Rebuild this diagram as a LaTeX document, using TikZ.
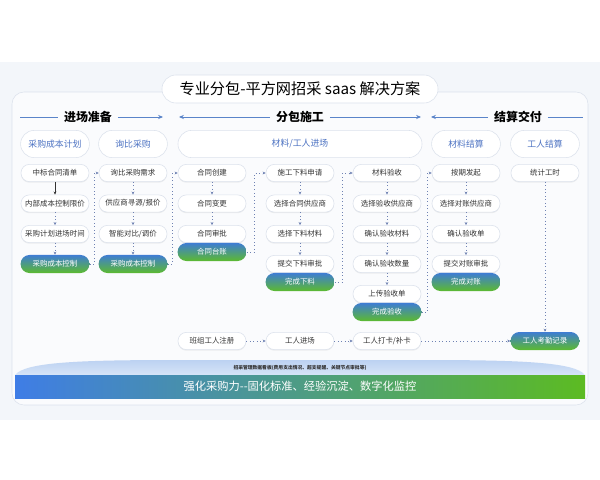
\documentclass[tikz,border=0pt]{standalone}
\usepackage{fontspec}
\setmainfont{Noto Sans CJK SC}
\usepackage{xcolor}
\usetikzlibrary{arrows.meta,shadows}

\definecolor{panelbg}{HTML}{F3F6FA}
\definecolor{boxline}{HTML}{DCE2EC}
\definecolor{darktext}{HTML}{333333}
\definecolor{catblue}{HTML}{4C72C2}
\definecolor{phaseblue}{HTML}{5A84C9}
\definecolor{dotline}{HTML}{6F82B3}
\definecolor{donegreen}{HTML}{5CBA2F}
\definecolor{doneblue}{HTML}{3F7DD3}
\definecolor{barblue}{HTML}{3F7DE6}
\definecolor{bargreen}{HTML}{5CBB22}
\definecolor{domeblue}{HTML}{BCD2F2}

\tikzset{
  stepbox/.style={draw=boxline, fill=white, rounded corners=2.1mm,
    minimum width=1.7cm, minimum height=0.43cm, inner sep=1pt,
    text=darktext, font=\fontsize{5.3}{6}\selectfont,
    drop shadow={opacity=0.12, shadow xshift=0pt, shadow yshift=-0.8pt}},
  % y axis points down, so the shading colours are given the other way round
  donebox/.style={rounded corners=2.2mm, minimum width=1.72cm,
    minimum height=0.45cm, inner sep=1pt, top color=doneblue,
    bottom color=donegreen, text=white, font=\fontsize{5.3}{6}\selectfont},
  catbox/.style={draw=boxline, fill=white, rounded corners=3.4mm,
    minimum width=1.72cm, minimum height=0.68cm, text=catblue,
    font=\fontsize{6.3}{7}\selectfont},
  phase/.style={font=\fontsize{8.5}{9}\selectfont\bfseries, inner sep=4pt},
  phaseline/.style={draw=phaseblue, line width=0.6pt},
  phasearrow/.style={phaseline, -{Stealth[length=3.5pt,width=3pt]}},
  flow/.style={dotted, draw=dotline, line width=0.5pt,
    -{Stealth[length=2.2pt,width=2pt]}},
}

\begin{document}
\begin{tikzpicture}[x=0.025cm,y=-0.025cm]
\useasboundingbox (0,0) rectangle (600,480);

% background panel and frame
\fill[panelbg] (0,62) rectangle (600,420);
\draw[boxline, fill=white!60!panelbg, rounded corners=3mm] (12,92) rectangle (588,405);

% title
\node[draw=boxline, fill=white, rounded corners=3.5mm, minimum width=6.9cm,
  minimum height=0.7cm, font=\fontsize{10.8}{12}\selectfont] (title) at (300,89)
  {专业分包{-}平方网招采 saas 解决方案};

% phase headers
\node[phase] (prep) at (88,117) {进场准备};
\node[phase] (build) at (300,117) {分包施工};
\node[phase] (settle) at (518,117) {结算交付};
\coordinate (prepL) at (20,117);
\coordinate (prepR) at (163,117);
\coordinate (buildL) at (179,117);
\coordinate (buildR) at (421,117);
\coordinate (settleL) at (431,117);
\coordinate (settleR) at (583,117);
\draw[phaseline] (prepL) -- (prep);
\draw[phasearrow] (prep) -- (prepR);
\draw[phasearrow] (build) -- (buildL);
\draw[phasearrow] (build) -- (buildR);
\draw[phasearrow] (settle) -- (settleL);
\draw[phaseline] (settle) -- (settleR);

% category pills
\node[catbox] (catplan) at (55,144) {采购成本计划};
\node[catbox] (catinq) at (133,144) {询比采购};
\node[catbox, minimum width=6.1cm] (catsite) at (300,144) {材料/工人进场};
\node[catbox] (catbill) at (466,144) {材料结算};
\node[catbox] (catwork) at (545,144) {工人结算};

% column 1
\node[stepbox] (plan1) at (55,173) {中标合同清单};
\node[stepbox] (plan2) at (55,203.5) {内部成本控制限价};
\node[stepbox] (plan3) at (55,234) {采购计划进场时间};
\node[donebox] (planok) at (55,264) {采购成本控制};
\draw[-{Stealth[length=2.2pt,width=2pt]}, draw=darktext, line width=0.5pt] (plan1) -- (plan2);
\draw[flow] (plan2) -- (plan3);
\draw[flow] (plan3) -- (planok);

% column 2
\node[stepbox] (inq1) at (133,173) {询比采购需求};
\node[stepbox] (inq2) at (133,203.5) {供应商寻源/报价};
\node[stepbox] (inq3) at (133,234) {智能对比/调价};
\node[donebox] (inqok) at (133,264) {采购成本控制};
\draw[flow] (inq1) -- (inq2);
\draw[flow] (inq2) -- (inq3);
\draw[flow] (inq3) -- (inqok);

% column 3
\node[stepbox] (con1) at (212,173) {合同创建};
\node[stepbox] (con2) at (212,203.5) {合同变更};
\node[stepbox] (con3) at (212,234) {合同审批};
\node[donebox] (conok) at (212,252) {合同台账};
\draw[flow] (con1) -- (con2);
\draw[flow] (con2) -- (con3);

% column 4
\node[stepbox] (cut1) at (300,173) {施工下料申请};
\node[stepbox] (cut2) at (300,203.5) {选择合同供应商};
\node[stepbox] (cut3) at (300,234) {选择下料材料};
\node[stepbox] (cut4) at (300,264) {提交下料审批};
\node[donebox] (cutok) at (300,282) {完成下料};
\draw[flow] (cut1) -- (cut2);
\draw[flow] (cut2) -- (cut3);
\draw[flow] (cut3) -- (cut4);

% column 5
\node[stepbox] (chk1) at (387,173) {材料验收};
\node[stepbox] (chk2) at (387,203.5) {选择验收供应商};
\node[stepbox] (chk3) at (387,234) {确认验收材料};
\node[stepbox] (chk4) at (387,264) {确认验收数量};
\node[stepbox] (chk5) at (387,294) {上传验收单};
\node[donebox] (chkok) at (387,312) {完成验收};
\draw[flow] (chk1) -- (chk2);
\draw[flow] (chk2) -- (chk3);
\draw[flow] (chk3) -- (chk4);
\draw[flow] (chk4) -- (chk5);

% column 6
\node[stepbox] (bill1) at (466,173) {按期发起};
\node[stepbox] (bill2) at (466,203.5) {选择对账供应商};
\node[stepbox] (bill3) at (466,234) {确认验收单};
\node[stepbox] (bill4) at (466,264) {提交对账审批};
\node[donebox] (billok) at (466,282) {完成对账};
\draw[flow] (bill1) -- (bill2);
\draw[flow] (bill2) -- (bill3);
\draw[flow] (bill3) -- (bill4);

% column 7 and worker row
\node[stepbox] (work1) at (545,173) {统计工时};
\node[donebox] (workok) at (545,341) {工人考勤记录};
\node[stepbox] (crew1) at (212,341) {班组工人注册};
\node[stepbox] (crew2) at (300,341) {工人进场};
\node[stepbox] (crew3) at (387,341) {工人打卡/补卡};
\draw[flow] (work1) -- (workok);
\draw[flow] (crew1) -- (crew2);
\draw[flow] (crew2) -- (crew3);
\draw[flow] (crew3) -- (workok);

% hand-over between columns
\draw[flow] (planok.east) -- ++(5,0) |- (inq1.west);
\draw[flow] (inqok.east) -- ++(5,0) |- (con1.west);
\draw[flow] (conok.east) -- ++(8,0) |- (cut1.west);
\draw[flow] (cutok.east) -- ++(8,0) |- (chk1.west);
\draw[flow] (chkok.east) -- ++(6,0) |- (bill1.west);

% data board and bottom bar
\path[top color=domeblue, bottom color=white!40!domeblue] (15,375)
  .. controls (25,362) and (80,360) .. (180,360) -- (420,360)
  .. controls (520,360) and (575,362) .. (585,375) -- cycle;
\node[font=\fontsize{3.4}{4}\selectfont\bfseries, text=darktext] (board) at (300,368)
  {招采管理数据看板(费用支出情况、超支提醒、关键节点审批等)};
\path[left color=barblue, right color=bargreen] (15,375) rectangle (585,398);
\node[font=\fontsize{8}{9}\selectfont, text=white] (goal) at (300,386.5)
  {强化采购力{-}{-}固化标准、经验沉淀、数字化监控};
\end{tikzpicture}
\end{document}
